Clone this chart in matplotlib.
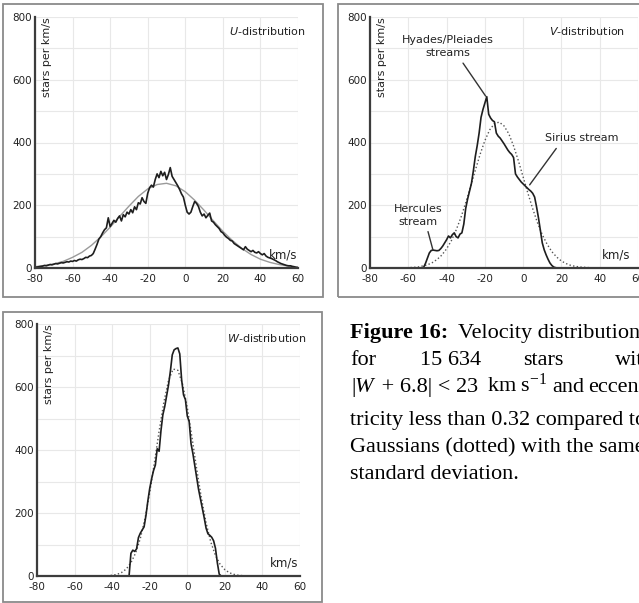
import numpy as np
import matplotlib
matplotlib.use("Agg")
import matplotlib.pyplot as plt
from matplotlib.patches import Rectangle

plt.rcParams['font.family'] = 'DejaVu Sans'
plt.rcParams['axes.unicode_minus'] = False
plt.rcParams['mathtext.fontset'] = 'custom'
plt.rcParams['mathtext.rm'] = 'Liberation Serif'
plt.rcParams['mathtext.it'] = 'Liberation Serif:italic'
plt.rcParams['mathtext.bf'] = 'Liberation Serif:bold'

# DATA (stars per km/s)
vel = np.arange(-80, 61)

u_obs = [2, 3, 4, 5, 6, 8, 7, 9, 11, 10,
         12, 14, 13, 15, 17, 16, 18, 20, 19, 22,
         21, 24, 22, 26, 28, 27, 30, 34, 33, 38,
         40, 46, 60, 75, 92, 100, 112, 122, 128, 160,
         132, 142, 152, 146, 158, 166, 150, 170, 163, 178,
         172, 186, 176, 195, 186, 208, 204, 224, 212, 206,
         238, 256, 264, 258, 282, 300, 288, 308, 294, 305,
         282, 298, 320, 292, 282, 272, 262, 250, 236, 226,
         200, 178, 172, 178, 196, 212, 206, 196, 178, 166,
         172, 160, 168, 175, 150, 146, 138, 132, 126, 116,
         112, 104, 98, 94, 88, 86, 78, 74, 70, 66,
         62, 58, 68, 60, 56, 52, 56, 50, 48, 52,
         46, 42, 46, 38, 34, 32, 30, 27, 24, 20,
         17, 14, 12, 10, 8, 7, 7, 5, 4, 2, 1]

v_obs = [0] * 28 + [
         2, 15, 32, 48, 56, 57, 56, 55, 56, 62,
         70, 80, 90, 102, 96, 106, 112, 100, 96, 108,
         112, 140, 190, 220, 245, 270, 310, 355, 390, 430,
         480, 505, 525, 546, 490, 478, 470, 466, 430, 420,
         414, 405, 396, 386, 376, 368, 362, 352, 300, 290,
         282, 274, 268, 262, 256, 250, 245, 238, 226, 195,
         160, 120, 80, 58, 42, 28, 16, 8, 3, 1] + [0] * 43

w_obs = [0] * 50 + [
         72, 82, 78, 86, 122, 136, 146, 156, 192, 238,
         278, 308, 334, 352, 404, 396, 462, 512, 538, 572,
         606, 650, 702, 718, 722, 724, 705, 622, 575, 560,
         508, 490, 420, 388, 350, 310, 275, 245, 215, 185,
         152, 134, 129, 123, 112, 88, 42, 6] + [0] * 43

# comparison Gaussians, read at coarser steps
u_gx = list(range(-80, 61, 5))
u_gauss = [4, 8, 13, 21, 34, 50, 72, 99, 130, 164, 197, 228, 252, 266, 270,
           262, 243, 216, 184, 150, 117, 88, 63, 43, 28, 18, 11, 6, 3]

v_gx = [-80, -70, -60, -55, -50, -47.5, -45, -42.5, -40, -37.5, -35, -32.5,
        -30, -27.5, -25, -22.5, -20, -17.5, -15, -12.5, -10, -7.5, -5, -2.5,
        0, 2.5, 5, 7.5, 10, 12.5, 15, 17.5, 20, 22.5, 25, 27.5, 30, 35, 40,
        50, 60]
v_gauss = [0, 0, 1, 3, 10, 17, 27, 41, 61, 87, 121, 161,
           208, 259, 311, 362, 406, 440, 460, 465, 453, 428, 389, 342,
           290, 238, 189, 144, 106, 76, 52, 35, 22, 14, 8, 5, 3, 1, 0,
           0, 0]

w_gx = [-80, -60, -50, -45, -42.5, -40, -37.5, -35, -32.5, -30, -27.5, -25,
        -22.5, -20, -17.5, -15, -12.5, -10, -7.5, -5, -2.5, 0, 2.5, 5, 7.5,
        10, 12.5, 15, 17.5, 20, 22.5, 25, 27.5, 30, 35, 40, 60]
w_gauss = [0, 0, 0, 0.4, 1, 2.4, 5, 11, 22, 42, 73, 119,
           183, 265, 360, 460, 551, 621, 657, 653, 609, 535, 440, 340, 248,
           169, 108, 65, 37, 20, 10, 5, 2, 1, 0, 0, 0]

W, H = 639, 603
fig = plt.figure(figsize=(W / 100, H / 100), dpi=100)


def box(x0, y0, x1, y1):
    return [x0 / W, 1 - y1 / H, (x1 - x0) / W, (y1 - y0) / H]


# panel frames
for x0, y0, x1, y1 in [(3, 4, 323, 297), (338, 4, 660, 297), (3, 312, 322, 602)]:
    fig.patches.append(Rectangle((x0 / W, 1 - y1 / H), (x1 - x0) / W, (y1 - y0) / H,
                                 transform=fig.transFigure, fill=False,
                                 edgecolor='#8a8a8a', lw=1.3))


def setup(ax, letter, title_x, km_x):
    ax.set_xlim(-80, 60)
    ax.set_ylim(0, 800)
    ax.set_xticks(range(-80, 61, 20))
    ax.set_yticks(range(0, 801, 200))
    ax.set_yticks(range(0, 801, 100), minor=True)
    ax.grid(True, which='both', color='#e8e8e8', lw=0.8)
    ax.set_axisbelow(True)
    for s in ['top', 'right']:
        ax.spines[s].set_visible(False)
    for s in ['left', 'bottom']:
        ax.spines[s].set_color('#3c3c3c')
        ax.spines[s].set_linewidth(1.6)
    ax.tick_params(which='both', length=0, labelsize=7.5, colors='#222222')
    ax.tick_params(axis='x', pad=4)
    ax.tick_params(axis='y', pad=2)
    ax.text(0.046, 1.0, 'stars per km/s', rotation=90, ha='center', va='top',
            transform=ax.transAxes, fontsize=8, color='#222222')
    ax.text(title_x, 0.945, r'$\mathit{' + letter + '}$-distribution', ha='right',
            va='center', transform=ax.transAxes, fontsize=8, color='#222222',
            math_fontfamily='dejavusans')
    ax.text(km_x, 0.052, 'km/s', ha='right', va='center', transform=ax.transAxes,
            fontsize=8.5, color='#222222')


line_kw = dict(color='#1e1e1e', lw=1.2)

# U
ax1 = fig.add_axes(box(35, 17, 298, 268))
setup(ax1, 'U', 1.03, 0.996)
ax1.plot(u_gx, u_gauss, color='#9a9a9a', lw=1.0)
ax1.plot(vel, u_obs, **line_kw)

# V
ax2 = fig.add_axes(box(370, 17, 638, 268))
setup(ax2, 'V', 0.95, 0.97)
ax2.plot(v_gx, v_gauss, color='#555555', lw=1.0, ls=':')
ax2.plot(vel, v_obs, **line_kw)
ann_kw = dict(fontsize=8, ha='center', va='center', color='#222222', linespacing=1.35)
arr = dict(arrowstyle='-', color='#333333', lw=1.0, shrinkA=0, shrinkB=0)
ax2.text(-39.3, 706, 'Hyades/Pleiades\nstreams', **ann_kw)
ax2.annotate('', xy=(-19.6, 548), xytext=(-31.4, 653), arrowprops=arr)
ax2.text(30.7, 414, 'Sirius stream', **ann_kw)
ax2.annotate('', xy=(3.4, 265), xytext=(17.3, 381), arrowprops=arr)
ax2.text(-54.9, 167, 'Hercules\nstream', **ann_kw)
ax2.annotate('', xy=(-47.1, 57), xytext=(-49.7, 116), arrowprops=arr)

# W
ax3 = fig.add_axes(box(37, 324, 300, 576))
setup(ax3, 'W', 1.025, 0.992)
ax3.plot(w_gx, w_gauss, color='#555555', lw=1.0, ls=':')
ax3.plot(vel, w_obs, **line_kw)

# caption (justified lines placed word by word where needed)
cap = dict(fontfamily='Liberation Serif', fontsize=16, va='baseline', color='black')


def fx(p):
    return p / W


def fy(p):
    return 1 - p / H


fig.text(fx(350), fy(338), 'Figure 16:', fontweight='bold', **cap)
fig.text(fx(458), fy(338), 'Velocity distributions', **cap)
for word, xp in [('for', 350), ('15 634', 420), ('stars', 523), ('with', 615)]:
    fig.text(fx(xp), fy(365), word, **cap)
fig.text(fx(351), fy(392), '|', **cap)
fig.text(fx(355), fy(392), 'W', fontstyle='italic', **cap)
fig.text(fx(376), fy(392), ' + 6.8| < 23', **cap)
fig.text(fx(487), fy(392), r'km s$^{\mathrm{-1}}$', **cap)
fig.text(fx(552), fy(392), 'and', **cap)
fig.text(fx(588), fy(392), 'eccen-', **cap)
fig.text(fx(350), fy(425), 'tricity less than 0.32 compared to', **cap)
fig.text(fx(350), fy(452), 'Gaussians (dotted) with the same', **cap)
fig.text(fx(350), fy(479), 'standard deviation.', **cap)

fig.savefig('out.png', dpi=100, facecolor='white')
